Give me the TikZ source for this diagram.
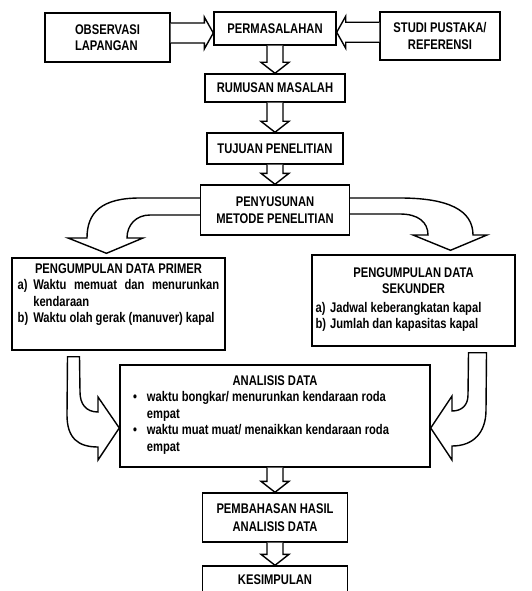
\documentclass[tikz,border=0pt]{standalone}
\usepackage{fontspec}
\setmainfont{Liberation Sans}[FakeStretch=0.80]
\usetikzlibrary{positioning,calc}

\tikzset{
  box/.style={draw, line width=1.4pt, fill=white, align=center, inner sep=2pt,
    font=\fontsize{14}{16.5}\selectfont\bfseries},
  blockarrow/.style={draw, line width=1.4pt, fill=white, line join=miter},
}
\newcommand{\vblock}[2]{%
  \path[blockarrow] let \p1=(#1.south), \p2=(#2.north) in
    (\x1-8pt,\y1) -- (\x1-8pt,\y2+11pt) -- (\x1-14pt,\y2+11pt) -- (\x1,\y2)
    -- (\x1+14pt,\y2+11pt) -- (\x1+8pt,\y2+11pt) -- (\x1+8pt,\y1);}
\newcommand{\hblock}[3]{%
  \path[blockarrow] let \p1=(#1), \p2=(#2), \p3=($(#1)!.5!(#2)$) in
    (\x1,\y3+10pt) -- (\x2#3,\y3+10pt) -- (\x2#3,\y3+16pt) -- (\x2,\y3)
    -- (\x2#3,\y3-16pt) -- (\x2#3,\y3-10pt) -- (\x1,\y3-10pt);}

\begin{document}
\begin{tikzpicture}[x=1pt, y=-1pt, on grid]
\useasboundingbox[fill=white] (0,0) rectangle (531,591);
\node[box, minimum width=122pt, minimum height=33pt] (perm) at (275,28.5) {PERMASALAHAN};
\node[box, minimum width=125pt, minimum height=49pt, align=left] (obs) at (107.5,37.5) {OBSERVASI\\LAPANGAN};
\node[box, minimum width=120pt, minimum height=48pt] (studi) at (440,36) {STUDI PUSTAKA/\\REFERENSI};
\node[box, minimum width=140pt, minimum height=28pt, below=59.5pt of perm] (rumusan) {RUMUSAN MASALAH};
\node[box, minimum width=136pt, minimum height=31pt, below=60.5pt of rumusan] (tujuan) {TUJUAN PENELITIAN};
\node[box, minimum width=149pt, minimum height=50pt, below=61.5pt of tujuan] (metode) {PENYUSUNAN\\METODE PENELITIAN};
\node[box, minimum width=213pt, minimum height=92pt] (primer) at (118.5,304) {PENGUMPULAN DATA PRIMER\\
  \begin{tabular}[t]{@{}l@{\hspace{5pt}}l@{}}
  a) & \makebox[186pt][s]{Waktu memuat dan menurunkan}\\
     & kendaraan\\
  b) & Waktu olah gerak (manuver) kapal\\
     &
  \end{tabular}};
\node[box, minimum width=203pt, minimum height=91pt] (sekunder) at (413.5,300.5) {PENGUMPULAN DATA\\SEKUNDER\\[2pt]
  \begin{tabular}[t]{@{}l@{\hspace{4pt}}l@{\hspace{30pt}}}
  a) & Jadwal keberangkatan kapal\\
  b) & Jumlah dan kapasitas kapal
  \end{tabular}};
\node[box, minimum width=310pt, minimum height=102pt] (analisis) at (275,416) {ANALISIS DATA\\
  \begin{tabular}[t]{@{}l@{\hspace{10pt}}p{270pt}@{}}
  \textbullet & waktu bongkar/ menurunkan kendaraan roda\\
              & empat\\
  \textbullet & waktu muat muat/ menaikkan kendaraan roda\\
              & empat
  \end{tabular}};
\node[box, minimum width=145pt, minimum height=49pt, below=101.5pt of analisis] (pembahasan) {PEMBAHASAN HASIL\\[2pt]ANALISIS DATA};
\node[box, minimum width=145pt, minimum height=28pt, below=62.5pt of pembahasan] (kesimpulan) {KESIMPULAN};

\hblock{obs.east}{perm.west}{-9pt}
\hblock{studi.west}{perm.east}{+9pt}
\vblock{perm}{rumusan}
\vblock{rumusan}{tujuan}
\vblock{tujuan}{metode}
\vblock{analisis}{pembahasan}
\vblock{pembahasan}{kesimpulan}

\path[blockarrow] ($(metode.west)+(0,-12)$) -- (140,198) .. controls (102,198) and (87,212) .. (87,238)
  -- (68,238) -- ($(primer.north)+(-12,-4)$) -- (143,238) -- (127,238)
  .. controls (127,225) and (136,215) .. (150,215) -- ($(metode.west)+(0,5)$);
\path[blockarrow] ($(metode.east)+(0,-12)$) -- (400,198) .. controls (448,198) and (473,210) .. (473,235)
  -- (487,235) -- ($(sekunder.north)+(37,-4)$) -- (413,235) -- (428,235)
  .. controls (428,222) and (418,214) .. (400,214) -- ($(metode.east)+(0,4)$);
\path[blockarrow] ($(primer.south)+(-51,6)$) -- (67,415) .. controls (67,438) and (78,447) .. (98,447)
  -- (98,460) -- ($(analisis.west)+(0,12)$) -- (98,397) -- (98,412)
  .. controls (86,412) and (80,404) .. (80,392) -- ($(primer.south)+(-39,6)$) -- cycle;
\path[blockarrow] ($(sekunder.south)+(55,6)$) -- (468,395) .. controls (468,405) and (462,411) .. (452,411)
  -- (452,396) -- ($(analisis.east)+(0,12)$) -- (452,460) -- (452,446)
  .. controls (474,446) and (486,432) .. (486,410) -- ($(sekunder.south)+(73,6)$) -- cycle;
\end{tikzpicture}
\end{document}
